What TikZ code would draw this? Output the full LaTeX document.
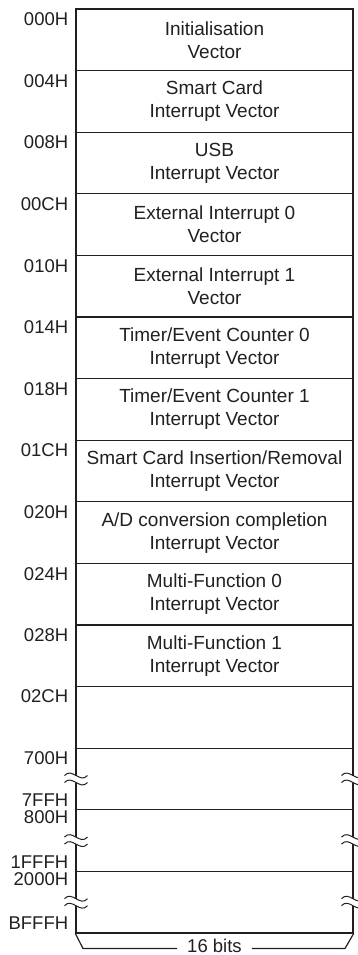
\documentclass[tikz,border=0pt]{standalone}
\usepackage{fontspec}
\setmainfont{Liberation Sans}
\usepackage{xcolor}
\usetikzlibrary{positioning}
\definecolor{ink}{HTML}{231F20}
\tikzstyle{cell}=[rectangle,draw=ink,line width=1.2pt,minimum width=277pt,minimum height=61.6pt,inner sep=0pt,align=center,font=\fontsize{19}{23}\selectfont]
\tikzstyle{addr}=[inner sep=0pt,font=\fontsize{18.5}{20}\selectfont]
\tikzstyle{edge} = [draw=ink,line width=1.2pt]
\tikzstyle{wave} = [draw=ink,line width=1pt]

\begin{document}
\begin{tikzpicture}[x=1pt,y=-1pt,text=ink]

  \useasboundingbox (0,0) rectangle (358,955);
  \def\u{61.6};
  \def\xm{214.5};
  \def\yt{9};

  % memory rows
  \foreach \i/\name/\txt in {0/r0/{Initialisation\\Vector}, 1/r1/{Smart Card\\Interrupt Vector},
      2/r2/{USB\\Interrupt Vector}, 3/r3/{External Interrupt 0\\Vector}, 4/r4/{External Interrupt 1\\Vector},
      5/r5/{Timer/Event Counter 0\\Interrupt Vector}, 6/r6/{Timer/Event Counter 1\\Interrupt Vector},
      7/r7/{Smart Card Insertion/Removal\\Interrupt Vector}, 8/r8/{A/D conversion completion\\Interrupt Vector},
      9/r9/{Multi-Function 0\\Interrupt Vector}, 10/r10/{Multi-Function 1\\Interrupt Vector},
      11/r11/{}, 12/r12/{}, 13/r13/{}, 14/r14/{}}
          \node[cell] (\name) at (\xm, \yt+\u*\i+\u/2) {\txt};

  % start addresses
  \foreach \name/\lab/\dy in {r0/000H/11, r1/004H/11, r2/008H/11, r3/00CH/11, r4/010H/11, r5/014H/11,
      r6/018H/11, r7/01CH/11, r8/020H/11, r9/024H/11, r10/028H/11, r11/02CH/10,
      r12/700H/11, r13/800H/8, r14/2000H/8}
          \node[addr, left=7pt of \name.north west, yshift=-\dy pt] (l\name) {\lab};

  % end addresses
  \foreach \name/\lab in {r12/7FFH, r13/1FFFH, r14/BFFFH}
          \node[addr, left=7pt of \name.south west, yshift=10pt] (e\name) {\lab};

  % break marks
  \foreach \y in {779, 840.6, 902.2}
    \foreach \x in {76, 353} {
      \fill[white] (\x-1.5,\y-3.5) rectangle (\x+1.5,\y+3.5);
      \path[wave] (\x-11.5,\y-3.5) .. controls (\x-4,\y-12) and (\x+4,\y+5) .. (\x+11.5,\y-3.5);
      \path[wave] (\x-11.5,\y+3.5) .. controls (\x-4,\y-5) and (\x+4,\y+12) .. (\x+11.5,\y+3.5);
    }

  % width
  \coordinate (bl) at (83,948.5);
  \coordinate (br) at (345,948.5);
  \node[addr, inner xsep=10pt, anchor=base] (bits) at (\xm, 952.5) {16 bits};
  \path[edge] (r14.south west) -- (bl) -- (bl -| bits.west);
  \path[edge] (r14.south east) -- (br) -- (br -| bits.east);

\end{tikzpicture}
\end{document}
